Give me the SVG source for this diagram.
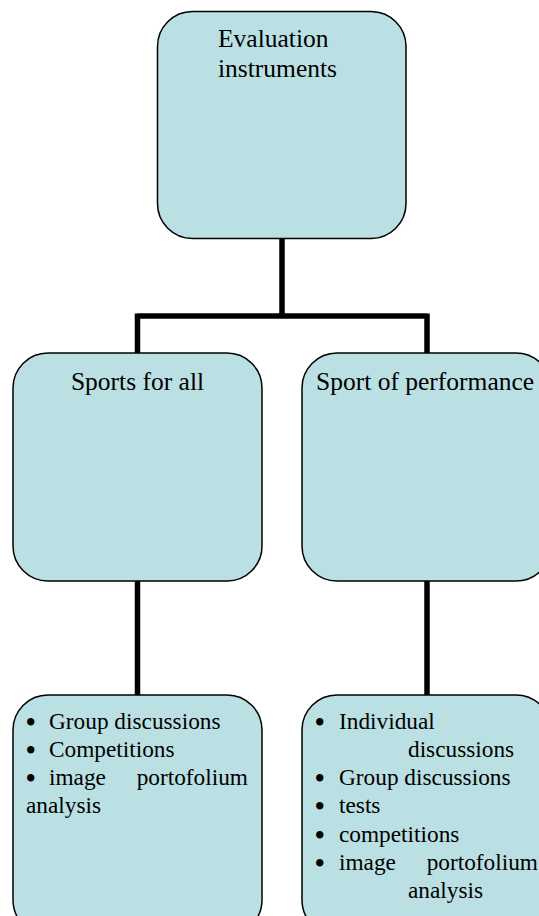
<svg xmlns="http://www.w3.org/2000/svg" width="539" height="916" viewBox="0 0 539 916">
<style>
.box{fill:#BAE0E3;stroke:#000;stroke-width:1.5}
.t{font-family:"Liberation Serif","Times New Roman",serif;font-size:25.5px;fill:#000}
.l{font-family:"Liberation Serif","Times New Roman",serif;font-size:23.3px;fill:#000}
.b{font-family:"Liberation Serif","Times New Roman",serif;font-size:27px;font-weight:bold;fill:#000}
.c{fill:none;stroke:#000;stroke-width:5.5;stroke-linejoin:miter}
</style>
<rect width="539" height="916" fill="#fff"/>
<g id="connectors">
<path class="c" d="M282,239 V316 M137.5,316 H427 M137.5,313.5 V353 M427,313.5 V353"/>
<path class="c" d="M137.5,581 V695 M427,581 V695"/>
</g>
<g id="evaluation">
<rect class="box" x="157.5" y="11.5" width="248.5" height="227" rx="35"/>
<text class="t" x="218" y="47">Evaluation</text>
<text class="t" x="218" y="77">instruments</text>
</g>
<g id="sports-for-all">
<rect class="box" x="13" y="353" width="249" height="228" rx="35"/>
<text class="t" x="137.5" y="390" text-anchor="middle">Sports for all</text>
</g>
<g id="sport-of-performance">
<rect class="box" x="302" y="353" width="249" height="228" rx="35"/>
<text class="t" x="316" y="390">Sport of performance</text>
</g>
<g id="sports-for-all-list">
<rect class="box" x="13" y="695" width="249" height="240" rx="35"/>
<text class="b" x="26" y="731">•</text><text class="l" x="49" y="729">Group discussions</text>
<text class="b" x="26" y="759">•</text><text class="l" x="49" y="757">Competitions</text>
<text class="b" x="26" y="787">•</text><text class="l" x="49" y="785">image</text><text class="l" x="248" y="785" text-anchor="end">portofolium</text>
<text class="l" x="26" y="813">analysis</text>
</g>
<g id="performance-list">
<rect class="box" x="302" y="695" width="249" height="240" rx="35"/>
<text class="b" x="315" y="731">•</text><text class="l" x="339" y="729">Individual</text>
<text class="l" x="408" y="757">discussions</text>
<text class="b" x="315" y="787">•</text><text class="l" x="339" y="785">Group discussions</text>
<text class="b" x="315" y="815">•</text><text class="l" x="339" y="813">tests</text>
<text class="b" x="315" y="844">•</text><text class="l" x="339" y="842">competitions</text>
<text class="b" x="315" y="872">•</text><text class="l" x="339" y="870">image</text><text class="l" x="538" y="870" text-anchor="end">portofolium</text>
<text class="l" x="408" y="898">analysis</text>
</g>
</svg>
